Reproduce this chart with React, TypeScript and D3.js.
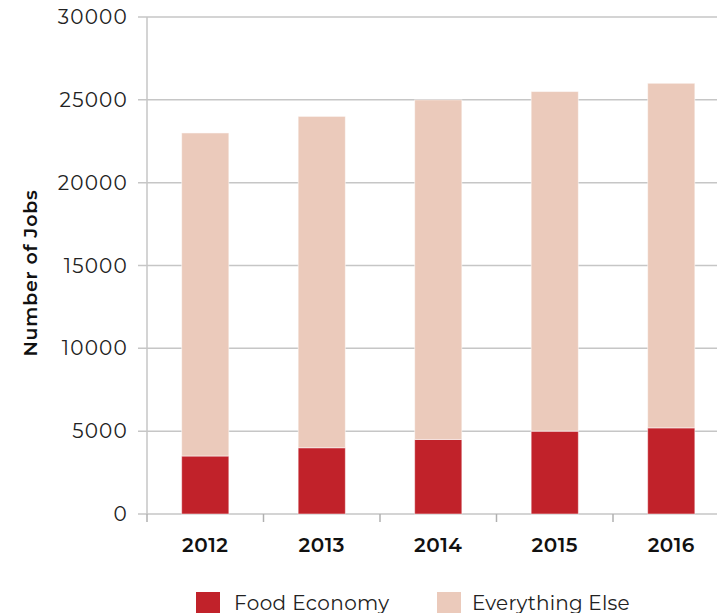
import React from "react";
import * as d3 from "d3";

const years = ["2012", "2013", "2014", "2015", "2016"];
const foodEconomy = [3500, 4000, 4500, 5000, 5200];
const everythingElse = [19500, 20000, 20500, 20500, 20800];
const yTicks = [0, 5000, 10000, 15000, 20000, 25000, 30000];
const seriesNames = ["Food Economy", "Everything Else"];
const seriesColors = ["#C1222A", "#EBCABB"];

const W = 717;
const H = 613;
const FONT = "Montserrat, 'Open Sans', Lato, sans-serif";

export default function App() {
  const left = 147;
  const x = d3.scaleBand<string>().domain(years).range([left, left + 582.5]).paddingInner(0.595).paddingOuter(0.2975);
  const y = d3.scaleLinear().domain([0, 30000]).range([514, 17]);

  const rows = years.map((yr, i) => ({ year: yr, food: foodEconomy[i], other: everythingElse[i] }));
  const stack = d3.stack<any>().keys(["food", "other"])(rows);

  const bandStep = x.step();
  const boundaries = years.map((_, i) => left + i * bandStep).concat([left + years.length * bandStep]);

  return (
    <svg width={W} height={H} style={{ position: "absolute", left: 0, top: 0, background: "#fff" }}>
      {yTicks.map((t) => (
        <g key={t}>
          <line x1={138} x2={W} y1={y(t)} y2={y(t)} stroke="#c6c6c6" strokeWidth={1.5} />
          <text x={128} y={y(t)} dy="0.35em" textAnchor="end" fontFamily={FONT} fontSize={20} letterSpacing={1.2} fill="#222">
            {t}
          </text>
        </g>
      ))}
      <line x1={left} x2={left} y1={y(30000)} y2={514} stroke="#c6c6c6" strokeWidth={1.5} />
      {boundaries.map((bx, i) => (
        <line key={i} x1={bx} x2={bx} y1={514} y2={522} stroke="#b0b0b0" strokeWidth={1.5} />
      ))}
      {stack.map((s, si) =>
        s.map((d, i) => (
          <rect
            key={si + "-" + i}
            x={x(years[i])!}
            y={y(d[1])}
            width={x.bandwidth()}
            height={y(d[0]) - y(d[1])}
            fill={seriesColors[si]}
            stroke="#fff"
            strokeOpacity={0.5}
            strokeWidth={1}
          />
        ))
      )}
      {years.map((yr) => (
        <text
          key={yr}
          x={x(yr)! + x.bandwidth() / 2}
          y={545}
          dy="0.35em"
          textAnchor="middle"
          fontFamily={FONT}
          fontWeight={600}
          fontSize={20}
          letterSpacing={0.5}
          fill="#111"
        >
          {yr}
        </text>
      ))}
      <text
        transform={`translate(30,273) rotate(-90)`}
        textAnchor="middle"
        dy="0.35em"
        fontFamily={FONT}
        fontWeight={600}
        fontSize={19}
        letterSpacing={0.8}
        fill="#111"
      >
        Number of Jobs
      </text>
      {seriesNames.map((n, i) => {
        const lx = i === 0 ? 196 : 437;
        const tx = i === 0 ? 234 : 472;
        return (
          <g key={n}>
            <rect x={lx} y={592} width={24} height={24} fill={seriesColors[i]} />
            <text x={tx} y={603} dy="0.35em" fontFamily={FONT} fontSize={20} letterSpacing={i === 0 ? 0.4 : 0.2} fill="#222">
              {n}
            </text>
          </g>
        );
      })}
    </svg>
  );
}
